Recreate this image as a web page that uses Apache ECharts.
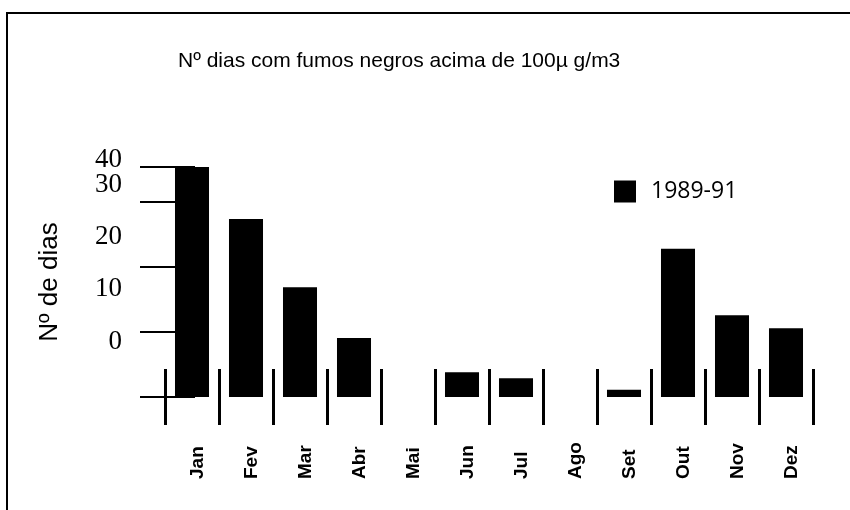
<!DOCTYPE html>
<html>
<head>
<meta charset="utf-8">
<title>Nº dias com fumos negros</title>
<script src="https://cdn.jsdelivr.net/npm/echarts@6/dist/echarts.min.js"></script>
<style>
  html, body { margin: 0; padding: 0; background: #fff; }
  #chart { width: 850px; height: 510px; }
  #frame {
    position: absolute; left: 6px; top: 12px; width: 860px; height: 520px;
    border-left: 2px solid #000; border-top: 2px solid #000; pointer-events: none;
  }
</style>
</head>
<body>
<div id="chart"></div>
<div id="frame"></div>
<script>
// months as printed on the scan
var months = ['Jan', 'Fev', 'Mar', 'Abr', 'Mai', 'Jun', 'Jul', 'Ago', 'Set', 'Out', 'Nov', 'Dez'];
// days per month, 1989-91
var days = [35.4, 27.4, 16.9, 9.1, 0, 3.8, 2.9, 0, 1.1, 22.8, 12.6, 10.6];
// the "40" tick sits level with the Jan bar on the scan
var yTop = 35.4;
var yTickLabels = ['0', '10', '20', '30', '40'];

var chart = echarts.init(document.getElementById('chart'));

var serif = { fontFamily: 'Liberation Serif', fontSize: 27, color: '#000' };
function yRich(pad) {
  return Object.assign({ padding: [0, 0, pad, 0] }, serif);
}
var yRichAll = { t0: yRich(110), t1: yRich(86), t2: yRich(60), t3: yRich(34), t4: yRich(14) };

// shared look of both left axes
function leftAxis(extra) {
  return Object.assign({
    type: 'value',
    min: 0,
    max: yTop,
    position: 'left',
    axisLine: { show: false },
    splitLine: { show: false }
  }, extra);
}

var option = {
  animation: false,
  backgroundColor: '#fff',
  title: {
    text: 'Nº dias com fumos negros acima de 100µ g/m3',
    left: 173,
    top: 46,
    textStyle: { fontFamily: 'Liberation Sans', fontSize: 21, fontWeight: 'normal', color: '#000' }
  },
  legend: {
    left: 609,
    top: 175,
    itemWidth: 22,
    itemHeight: 22,
    itemGap: 0,
    icon: 'rect',
    textStyle: { fontFamily: 'Open Sans', fontSize: 23, color: '#000', padding: [0, 0, 0, 10] },
    data: ['1989-91']
  },
  grid: { left: 165, right: 37, top: 167, bottom: 113 },
  xAxis: {
    type: 'category',
    data: months,
    offset: -28,
    axisLine: { show: false },
    axisTick: { show: true, length: 56, lineStyle: { color: '#000', width: 3 } },
    axisLabel: {
      rotate: 90,
      align: 'left',
      verticalAlign: 'top',
      lineHeight: 12,
      margin: 110,
      fontFamily: 'Liberation Sans',
      fontSize: 19,
      fontWeight: 'bold',
      color: '#000'
    },
    splitLine: { show: false }
  },
  yAxis: [
    leftAxis({
      interval: 10,
      offset: -12,
      name: 'Nº de dias',
      nameLocation: 'middle',
      nameRotate: 90,
      nameGap: 114,
      nameTextStyle: { fontFamily: 'Liberation Sans', fontSize: 26, color: '#000' },
      axisTick: { show: true, length: 37, lineStyle: { color: '#000', width: 2 } },
      axisLabel: {
        margin: 55,
        formatter: function (v) {
          var i = Math.round(v / 10);
          return i < 4 ? '{t' + i + '|' + yTickLabels[i] + '}' : '';
        },
        rich: yRichAll
      }
    }),
    // second axis only for the longer top "40" tick and the baseline stub
    leftAxis({
      interval: yTop,
      offset: -30,
      axisTick: { show: true, length: 55, lineStyle: { color: '#000', width: 2 } },
      axisLabel: {
        margin: 73,
        formatter: function (v) { return v > 0 ? '{t4|' + yTickLabels[4] + '}' : ''; },
        rich: yRichAll
      }
    })
  ],
  series: [
    {
      name: '1989-91',
      type: 'bar',
      data: days,
      barWidth: '63%',
      itemStyle: { color: '#000' }
    }
  ]
};

chart.setOption(option);
</script>
</body>
</html>
